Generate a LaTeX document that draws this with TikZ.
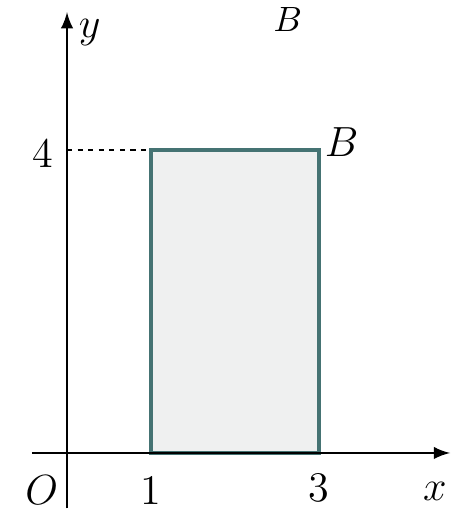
\documentclass[tikz,border=0pt]{standalone}
\usetikzlibrary{arrows}
\begin{document}
\begin{tikzpicture}[x=0.84cm,y=0.7575cm,>=latex,font=\large]
 \useasboundingbox (-0.798,-0.845) rectangle (4.583,5.98);
 \coordinate (O) at (0,0);
 \coordinate (A) at (1,0);
 \coordinate (C) at (3,0);
 \coordinate (B) at (3,4);
 \coordinate (D) at (1,4);
 \coordinate (Y4) at (0,4);
 \fill[teal!6!gray!12] (A) rectangle (B);
 \draw[teal!40!gray!90!black,line width=1.2pt] (A) rectangle (B);
 \draw[dash pattern=on 1.5pt off 1.5pt,thick] (Y4) -- (D);
 \draw[->,line width=0.6pt] (-0.42,0)--(4.56,0) coordinate (xend);
 \draw[->,line width=0.6pt] (0,-0.73)--(0,5.82) coordinate (yend);
 \node (ylab) at (0.27,5.55) {\(y\)};
 \node (xlab) at (4.38,-0.51) {\(x\)};
 \node (Btop) at (2.63,5.72) {\normalsize\(B\)};
 \node (Blab) at (3.27,4.1) {\(B\)};
 \node (four) at (-0.29,3.96) {4};
 \node (Olab) at (-0.3,-0.49) {\(O\)};
 \node (one) at (1,-0.49) {1};
 \node (three) at (3,-0.46) {3};
\end{tikzpicture}
\end{document}
